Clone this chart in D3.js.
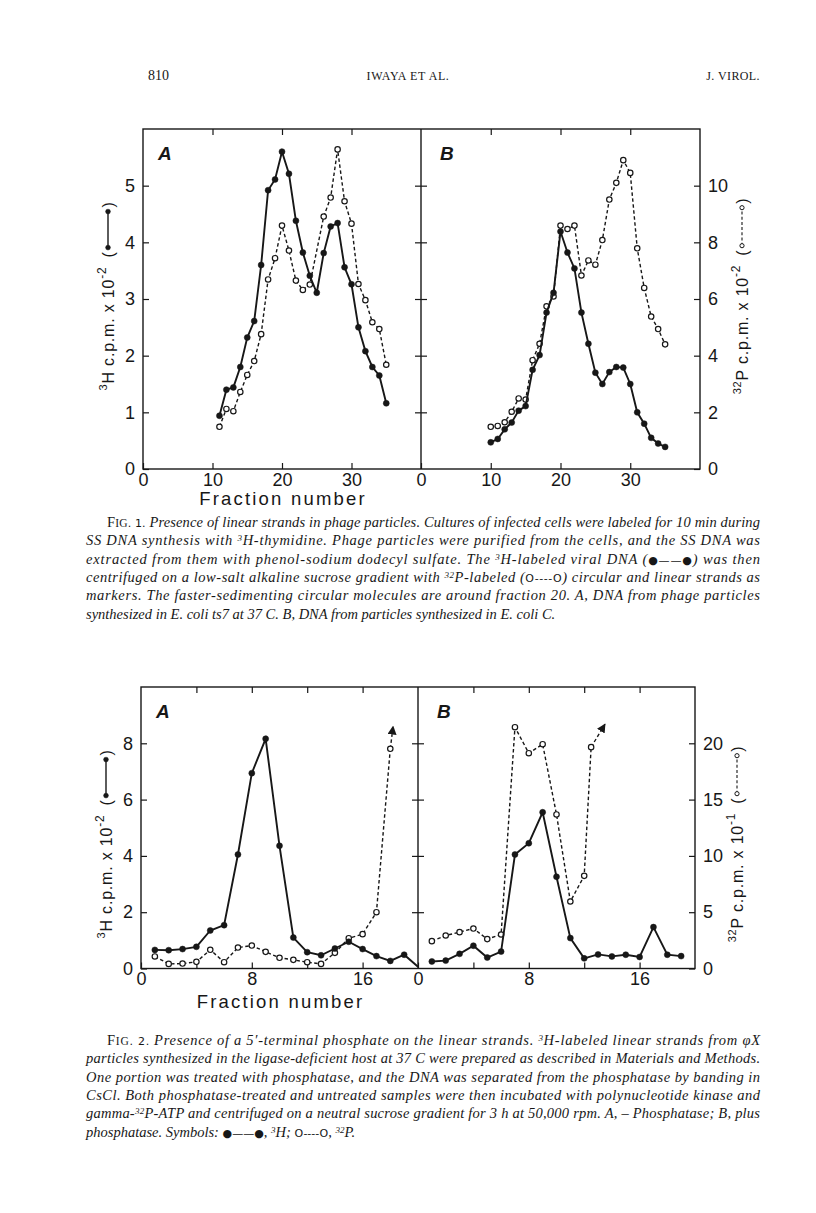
<!DOCTYPE html>
<html>
<head>
<meta charset="utf-8">
<script src="https://cdn.jsdelivr.net/npm/d3@7"></script>
<style>
  body { margin: 0; background: #fff; }
  svg { display: block; }
</style>
</head>
<body>
<svg id="page" width="816" height="1213"></svg>
<script>
const INK = '#171717';
const SANS = '"Liberation Sans", Arial, sans-serif';
const SERIF = '"Liberation Serif", "Times New Roman", serif';

// ---------- Fig. 1 data ----------
const fig1XTicks = [0, 10, 20, 30];
const fig1LeftTicks = [0, 1, 2, 3, 4, 5];
const fig1RightTicks = [0, 2, 4, 6, 8, 10];

// panel A, 3H (filled) and 32P (open)
const fig1aHFrac = [11, 12, 13, 14, 15, 16, 17, 18, 19, 20, 21, 22, 23, 24, 25, 26, 27, 28, 29, 30, 31, 32, 33, 34, 35];
const fig1aHVal = [0.94, 1.40, 1.44, 1.80, 2.32, 2.61, 3.60, 4.92, 5.11, 5.60, 5.21, 4.38, 3.82, 3.41, 3.11, 3.81, 4.28, 4.34, 3.56, 3.26, 2.50, 2.08, 1.80, 1.65, 1.16];
const fig1aPFrac = [11, 12, 13, 14, 15, 16, 17, 18, 19, 20, 21, 22, 23, 24, 26, 27, 28, 29, 30, 31, 32, 33, 34, 35];
const fig1aPVal = [1.49, 2.12, 2.04, 2.72, 3.32, 3.81, 4.76, 6.69, 7.44, 8.59, 7.71, 6.65, 6.32, 6.51, 8.91, 9.58, 11.28, 9.45, 8.66, 6.53, 5.96, 5.18, 4.94, 3.68];

// panel B
const fig1bHFrac = [10, 11, 12, 13, 14, 15, 16, 17, 18, 19, 20, 21, 22, 23, 24, 25, 26, 27, 28, 29, 30, 31, 32, 33, 34, 35];
const fig1bHVal = [0.47, 0.53, 0.70, 0.82, 1.03, 1.11, 1.75, 2.01, 2.76, 3.11, 4.19, 3.82, 3.54, 2.76, 2.21, 1.70, 1.50, 1.71, 1.80, 1.79, 1.50, 1.00, 0.80, 0.55, 0.45, 0.39];
const fig1bPFrac = [10, 11, 12, 13, 14, 15, 16, 17, 18, 19, 20, 21, 22, 23, 24, 25, 26, 27, 28, 29, 30, 31, 32, 33, 34, 35];
const fig1bPVal = [1.49, 1.52, 1.65, 2.02, 2.49, 2.45, 3.84, 4.42, 5.74, 6.09, 8.59, 8.47, 8.59, 6.83, 7.36, 7.21, 8.08, 9.51, 10.10, 10.90, 10.45, 7.79, 6.39, 5.38, 4.94, 4.40];

// ---------- Fig. 2 data ----------
const fig2XTicks = [0, 4, 8, 12, 16];
const fig2XLabels = [0, 8, 16];
const fig2LeftTicks = [0, 2, 4, 6, 8];
const fig2RightTicks = [0, 5, 10, 15, 20];

const fig2aHFrac = [1, 2, 3, 4, 5, 6, 7, 8, 9, 10, 11, 12, 13, 14, 15, 16, 17, 18, 19, 20];
const fig2aHVal = [0.66, 0.65, 0.69, 0.77, 1.35, 1.54, 4.05, 6.94, 8.16, 4.36, 1.10, 0.58, 0.47, 0.71, 0.95, 0.69, 0.44, 0.27, 0.49, 0.06];
const fig2aPFrac = [1, 2, 3, 4, 5, 6, 7, 8, 9, 10, 11, 12, 13, 14, 15, 16, 17, 18];
const fig2aPVal = [1.07, 0.41, 0.44, 0.59, 1.66, 0.56, 1.86, 2.04, 1.48, 0.95, 0.77, 0.56, 0.41, 1.39, 2.69, 3.05, 5.00, 19.51];
const fig2aPArrow = [18.2, 21.5];

const fig2bHFrac = [1, 2, 3, 4, 5, 6, 7, 8, 9, 10, 11, 12, 13, 14, 15, 16, 17, 18, 19];
const fig2bHVal = [0.25, 0.28, 0.52, 0.81, 0.39, 0.60, 4.05, 4.45, 5.55, 3.26, 1.08, 0.36, 0.50, 0.43, 0.49, 0.41, 1.47, 0.49, 0.44];
const fig2bPFrac = [1, 2, 3, 4, 5, 6, 7, 8, 9, 10, 11, 12, 12.5];
const fig2bPVal = [2.43, 2.93, 3.23, 3.55, 2.61, 3.02, 21.43, 19.12, 19.92, 13.68, 5.95, 8.23, 19.66];
const fig2bPArrow = [13.5, 21.7];

// ---------- captions ----------
const fig1Caption = [
  [['F', 'r'], ['IG', 'sc'], ['. 1. ', 'r'], ['Presence of linear strands in phage particles. Cultures of infected cells were labeled for 10 min during', 'i']],
  [['SS DNA synthesis with ', 'i'], ['3', 'sup'], ['H-thymidine. Phage particles were purified from the cells, and the SS DNA was', 'i']],
  [['extracted from them with phenol-sodium dodecyl sulfate. The ', 'i'], ['3', 'sup'], ['H-labeled viral DNA (', 'i'], ['\u25CF\u2014\u2014\u25CF', 'r'], [') was then', 'i']],
  [['centrifuged on a low-salt alkaline sucrose gradient with ', 'i'], ['32', 'sup'], ['P-labeled (', 'i'], ['O----O', 'r'], [') circular and linear strands as', 'i']],
  [['markers. The faster-sedimenting circular molecules are around fraction 20. A, DNA from phage particles', 'i']],
  [['synthesized in E. coli ts7 at 37 C. B, DNA from particles synthesized in E. coli C.', 'i']]
];
const fig2Caption = [
  [['F', 'r'], ['IG', 'sc'], ['. 2. ', 'r'], ['Presence of a 5\u2032-terminal phosphate on the linear strands. ', 'i'], ['3', 'sup'], ['H-labeled linear strands from \u03C6X', 'i']],
  [['particles synthesized in the ligase-deficient host at 37 C were prepared as described in Materials and Methods.', 'i']],
  [['One portion was treated with phosphatase, and the DNA was separated from the phosphatase by banding in', 'i']],
  [['CsCl. Both phosphatase-treated and untreated samples were then incubated with polynucleotide kinase and', 'i']],
  [['gamma-', 'i'], ['32', 'sup'], ['P-ATP and centrifuged on a neutral sucrose gradient for 3 h at 50,000 rpm. A, \u2013 Phosphatase; B, plus', 'i']],
  [['phosphatase. Symbols: ', 'i'], ['\u25CF\u2014\u2014\u25CF', 'r'], [', ', 'i'], ['3', 'sup'], ['H; ', 'i'], ['O----O', 'r'], [', ', 'i'], ['32', 'sup'], ['P.', 'i']]
];

const svg = d3.select('#page');

// page header
svg.append('text').attr('x', 148).attr('y', 80).text('810')
  .attr('font-family', SERIF).attr('font-size', 14).attr('fill', INK);
svg.append('text').attr('x', 408).attr('y', 80).attr('text-anchor', 'middle').text('IWAYA ET AL.')
  .attr('font-family', SERIF).attr('font-size', 12).attr('letter-spacing', 0.6).attr('fill', INK);
svg.append('text').attr('x', 760).attr('y', 80).attr('text-anchor', 'end').text('J. VIROL.')
  .attr('font-family', SERIF).attr('font-size', 12).attr('letter-spacing', 0.4).attr('fill', INK);

// arrowhead
svg.append('defs').append('marker')
  .attr('id', 'arrow').attr('viewBox', '0 0 10 10').attr('refX', 9).attr('refY', 5)
  .attr('markerWidth', 9).attr('markerHeight', 9).attr('markerUnits', 'userSpaceOnUse')
  .attr('orient', 'auto')
  .append('path').attr('d', 'M0,0 L10,5 L0,10 Z').attr('fill', INK);

function styleTicks(sel) {
  sel.select('.domain').remove();
  sel.selectAll('line').attr('stroke', INK).attr('stroke-width', 1.2);
  sel.selectAll('text').attr('font-family', SANS).attr('font-size', 18).attr('fill', INK);
}

function drawSeries(g, x, y, frac, vals, filled, arrowTo) {
  const pts = frac.map((f, i) => [f, vals[i]]);
  const line = d3.line().x(d => x(d[0])).y(d => y(d[1]));
  g.append('path').datum(pts).attr('d', line)
    .attr('fill', 'none').attr('stroke', INK)
    .attr('stroke-width', filled ? 1.9 : 1.4)
    .attr('stroke-dasharray', filled ? null : '3.5,2.5');
  if (arrowTo) {
    const last = pts[pts.length - 1];
    g.append('path').datum([last, arrowTo]).attr('d', line)
      .attr('fill', 'none').attr('stroke', INK).attr('stroke-width', 1.4)
      .attr('stroke-dasharray', '3.5,2.5').attr('marker-end', 'url(#arrow)');
  }
  const dom = x.domain();
  g.selectAll(null).data(pts.filter(d => d[0] < dom[1])).enter().append('circle')
    .attr('cx', d => x(d[0])).attr('cy', d => y(d[1]))
    .attr('r', filled ? 3 : 2.7)
    .attr('fill', filled ? INK : '#fff')
    .attr('stroke', INK).attr('stroke-width', filled ? 0.5 : 1.2);
}

// rotated axis title with its line-symbol key
function yTitle(cx, cy, sup, main, exp, filled) {
  const g = svg.append('g').attr('transform', `translate(${cx},${cy}) rotate(-90)`);
  const t = g.append('text').attr('font-family', SANS).attr('font-size', 16)
    .attr('letter-spacing', 0.8).attr('fill', INK).attr('y', 6);
  t.append('tspan').attr('font-size', 11).attr('dy', -7).text(sup);
  t.append('tspan').attr('dy', 7).text(main);
  t.append('tspan').attr('font-size', 12).attr('dy', -8).text(exp);
  const w = t.node().getComputedTextLength();
  const k = g.append('g');
  k.append('text').attr('font-family', SANS).attr('font-size', 16).attr('fill', INK)
    .attr('y', 6).text('(');
  const a = 10, b = filled ? 46 : 48;
  k.append('line').attr('x1', a).attr('x2', b).attr('y1', 0).attr('y2', 0)
    .attr('stroke', INK).attr('stroke-width', filled ? 1.4 : 1.1)
    .attr('stroke-dasharray', filled ? null : '3,2.2');
  [a, b].forEach(px => k.append('circle').attr('cx', px).attr('cy', 0)
    .attr('r', filled ? 2.4 : 2.1).attr('fill', filled ? INK : '#fff')
    .attr('stroke', INK).attr('stroke-width', filled ? 0.5 : 1));
  k.append('text').attr('font-family', SANS).attr('font-size', 16).attr('fill', INK)
    .attr('x', b + 4).attr('y', 6).text(')');
  const total = w + 9 + b + 10;
  t.attr('x', -total / 2);
  k.attr('transform', `translate(${w + 9 - total / 2},0)`);
}

function drawFigure(f) {
  const g = svg.append('g');
  const xa = d3.scaleLinear().domain(f.xDomain).range([f.left, f.mid]);
  const xb = d3.scaleLinear().domain(f.xDomain).range([f.mid, f.right]);
  const yl = d3.scaleLinear().domain(f.leftDomain).range([f.bottom, f.top]);
  const yr = d3.scaleLinear().domain(f.rightDomain).range([f.bottom, f.top]);

  const inner = f.leftTicks.filter(v => v > 0);
  const fmtX = v => f.xLabels.includes(v) ? String(v) : '';

  // bottom and top axes for both panels
  [xa, xb].forEach(x => {
    g.append('g').attr('transform', `translate(0,${f.bottom})`)
      .call(d3.axisBottom(x).tickValues(f.xTicks).tickSize(-6).tickPadding(4).tickFormat(fmtX))
      .call(styleTicks);
    g.append('g').attr('transform', `translate(0,${f.top})`)
      .call(d3.axisTop(x).tickValues(f.xTicks.filter(v => v > 0)).tickSize(-6).tickFormat(''))
      .call(styleTicks);
  });
  // left axis
  g.append('g').attr('transform', `translate(${f.left},0)`)
    .call(d3.axisLeft(yl).tickValues(f.leftTicks).tickSize(-6).tickPadding(8).tickFormat(d3.format('d')))
    .call(styleTicks);
  // divider ticks both ways
  g.append('g').attr('transform', `translate(${f.mid},0)`)
    .call(d3.axisLeft(yl).tickValues(inner).tickSize(6).tickFormat(''))
    .call(styleTicks);
  g.append('g').attr('transform', `translate(${f.mid},0)`)
    .call(d3.axisRight(yl).tickValues(inner).tickSize(6).tickFormat(''))
    .call(styleTicks);
  // right axis
  g.append('g').attr('transform', `translate(${f.right},0)`)
    .call(d3.axisRight(yr).tickValues(f.rightTicks).tickSize(-6).tickPadding(8).tickFormat(d3.format('d')))
    .call(styleTicks);

  // frame
  g.append('rect').attr('x', f.left).attr('y', f.top)
    .attr('width', f.right - f.left).attr('height', f.bottom - f.top)
    .attr('fill', 'none').attr('stroke', INK).attr('stroke-width', 1.4);
  g.append('line').attr('x1', f.mid).attr('x2', f.mid).attr('y1', f.top).attr('y2', f.bottom)
    .attr('stroke', INK).attr('stroke-width', 1.4);

  // series
  drawSeries(g, xa, yr, f.a.pFrac, f.a.pVal, false, f.a.arrow);
  drawSeries(g, xa, yl, f.a.hFrac, f.a.hVal, true);
  drawSeries(g, xb, yr, f.b.pFrac, f.b.pVal, false, f.b.arrow);
  drawSeries(g, xb, yl, f.b.hFrac, f.b.hVal, true);

  // panel letters
  [['A', f.left + 15], ['B', f.mid + 19]].forEach(([s, px]) => {
    g.append('text').attr('x', px).attr('y', f.top + 31).text(s)
      .attr('font-family', SANS).attr('font-size', 19).attr('font-style', 'italic')
      .attr('font-weight', 'bold').attr('fill', INK);
  });

  // x title
  g.append('text').attr('x', (f.left + f.mid) / 2 + 1).attr('y', f.bottom + f.xTitleOff)
    .attr('text-anchor', 'middle').text('Fraction number')
    .attr('font-family', SANS).attr('font-size', 18.5).attr('letter-spacing', 2.2).attr('fill', INK);

  yTitle(f.left - 35, f.titleY, '3', 'H c.p.m. x 10', f.leftExp, true);
  yTitle(f.right + 42, f.titleY, '32', 'P c.p.m. x 10', f.rightExp, false);
}

drawFigure({
  left: 143, mid: 421, right: 700, top: 129, bottom: 469,
  xDomain: [0, 40], leftDomain: [0, 6], rightDomain: [0, 12],
  xTicks: fig1XTicks, xLabels: fig1XTicks,
  leftTicks: fig1LeftTicks, rightTicks: fig1RightTicks,
  titleY: 296, leftExp: '-2', rightExp: '-2', xTitleOff: 36,
  a: { hFrac: fig1aHFrac, hVal: fig1aHVal, pFrac: fig1aPFrac, pVal: fig1aPVal },
  b: { hFrac: fig1bHFrac, hVal: fig1bHVal, pFrac: fig1bPFrac, pVal: fig1bPVal }
});

drawFigure({
  left: 141, mid: 418, right: 695, top: 687, bottom: 968.5,
  xDomain: [0, 20], leftDomain: [0, 10], rightDomain: [0, 25],
  xTicks: fig2XTicks, xLabels: fig2XLabels,
  leftTicks: fig2LeftTicks, rightTicks: fig2RightTicks,
  titleY: 844, leftExp: '-2', rightExp: '-1', xTitleOff: 39,
  a: { hFrac: fig2aHFrac, hVal: fig2aHVal, pFrac: fig2aPFrac, pVal: fig2aPVal, arrow: fig2aPArrow },
  b: { hFrac: fig2bHFrac, hVal: fig2bHVal, pFrac: fig2bPFrac, pVal: fig2bPVal, arrow: fig2bPArrow }
});

// captions, justified with textLength
function caption(lines, y0) {
  lines.forEach((segs, i) => {
    const first = i === 0, last = i === lines.length - 1;
    const x = first ? 107 : 86;
    const t = svg.append('text').attr('x', x).attr('y', y0 + i * 18.3)
      .attr('font-family', SERIF).attr('font-size', 14.5).attr('fill', INK);
    segs.forEach(([s, kind]) => {
      const ts = t.append('tspan').text(s);
      if (kind === 'i') ts.attr('font-style', 'italic');
      if (kind === 'sc') ts.attr('font-size', 11.5);
      if (kind === 'sup') ts.attr('font-style', 'italic').attr('font-size', 9).attr('baseline-shift', '45%');
      if (kind === 'r' && s.length > 3) ts.attr('font-family', '"DejaVu Sans", sans-serif').attr('font-size', 11);
    });
    if (!last) t.attr('textLength', 760 - x).attr('lengthAdjust', 'spacing');
  });
}
caption(fig1Caption, 527);
caption(fig2Caption, 1045);
</script>
</body>
</html>
